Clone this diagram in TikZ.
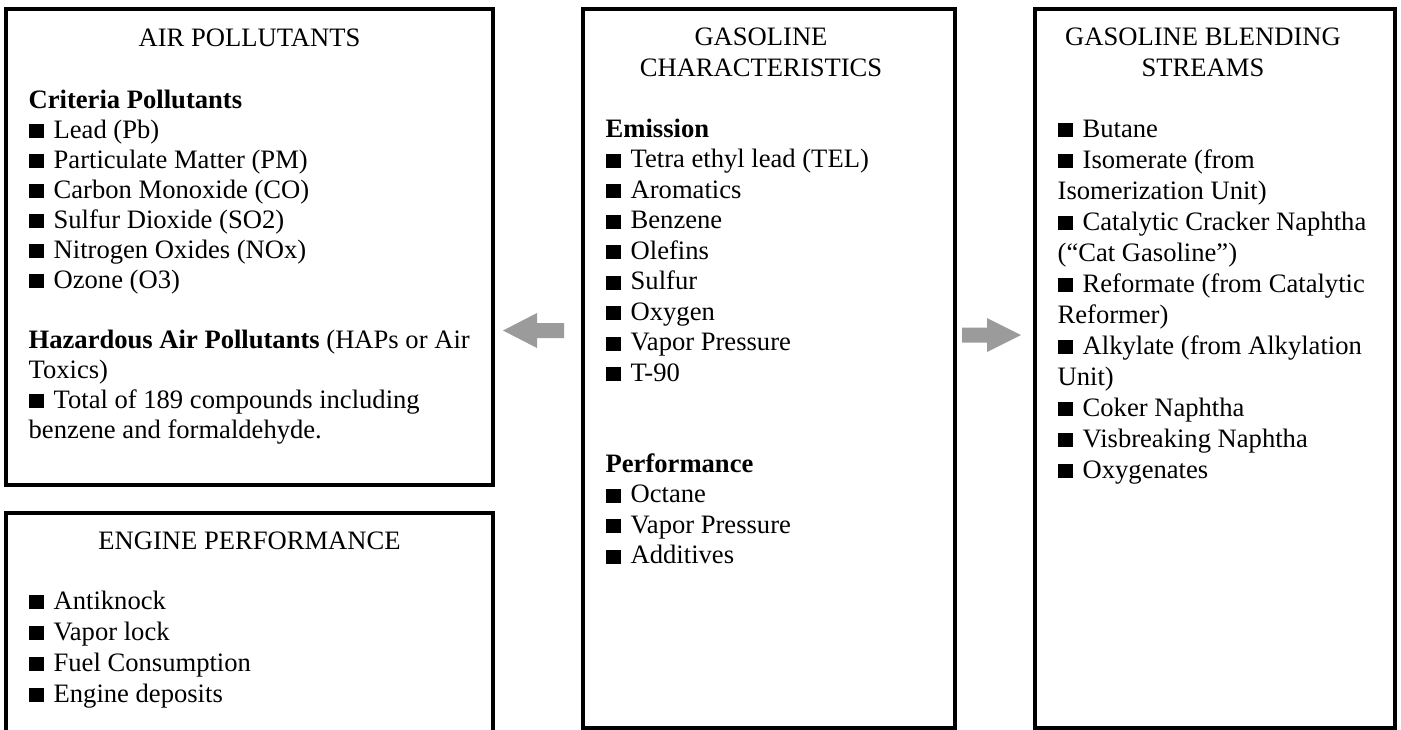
\documentclass[tikz,border=0pt]{standalone}
\usepackage{fontspec}
\setmainfont{Liberation Serif}
\usetikzlibrary{positioning, calc}
\definecolor{arrowgray}{HTML}{9B9B9B}
\newcommand{\sqb}{\rule{7.5pt}{7pt}\hspace{5pt}}

\begin{document}
\begin{tikzpicture}[
    x=0.5pt, y=-0.5pt,
    every node/.style={font=\fontsize{13.3}{15}\selectfont, inner sep=0pt},
    panel/.style={draw, rectangle, line width=1.75pt, inner sep=0pt},
    head/.style={anchor=base},
    item/.style={anchor=base west},
    blockarr/.style={fill=arrowgray}
]
\useasboundingbox (0,0) rectangle (1401,729);
\clip (0,0) rectangle (1401,729);
% Boxes
\node[panel, minimum width=243.5pt, minimum height=238pt] (airbox) at (249.5,247) {};
\node[panel, minimum width=243.5pt, minimum height=115pt] (enginebox) at (249.5,628) {};
\node[panel, minimum width=186pt, minimum height=359.5pt] (charbox) at (769,368.5) {};
\node[panel, minimum width=180pt, minimum height=359.5pt] (blendbox) at (1215,368.5) {};
% Titles
\node[head] (airtitle) at ($(airbox.north)+(0,39)$) {AIR POLLUTANTS};
\node[head] (enginetitle) at ($(enginebox.north)+(0,38)$) {ENGINE PERFORMANCE};
\node[head] (chartitle) at ($(charbox.north)+(-8,38)$) {GASOLINE};
\node[head] (chartitleb) at ($(charbox.north)+(-8,69)$) {CHARACTERISTICS};
\node[head] (blendtitle) at ($(blendbox.north)+(-12,38)$) {GASOLINE BLENDING};
\node[head] (blendtitleb) at ($(blendbox.north)+(-12,69)$) {STREAMS};
% Air pollutants
\node[item] (crit) at ($(airbox.north west)+(24,101)$) {\textbf{Criteria Pollutants}};
\foreach \txt [count=\i] in {Lead (Pb), Particulate Matter (PM), Carbon Monoxide (CO),
    Sulfur Dioxide (SO2), Nitrogen Oxides (NOx), Ozone (O3)} {
    \node[item] (crit\i) at ($(airbox.north west)+(24,101+30*\i)$) {\sqb\txt};
}
\node[item] (haps) at ($(airbox.north west)+(24,341)$) {\textbf{Hazardous Air Pollutants} (HAPs or Air};
\node[item] (hapsb) at ($(airbox.north west)+(24,371)$) {Toxics)};
\node[item] (hapsc) at ($(airbox.north west)+(24,401)$) {\sqb Total of 189 compounds including};
\node[item] (hapsd) at ($(airbox.north west)+(24,431)$) {benzene and formaldehyde.};
% Engine performance
\foreach \txt [count=\i from 0] in {Antiknock, Vapor lock, Fuel Consumption, Engine deposits} {
    \node[item] (eng\i) at ($(enginebox.north west)+(24,98+31*\i)$) {\sqb\txt};
}
% Gasoline characteristics
\node[item] (emis) at ($(charbox.north west)+(24,130)$) {\textbf{Emission}};
\foreach \txt [count=\i] in {Tetra ethyl lead (TEL), Aromatics, Benzene, Olefins, Sulfur,
    Oxygen, Vapor Pressure, T-90} {
    \node[item] (emis\i) at ($(charbox.north west)+(24,130+30.5*\i)$) {\sqb\txt};
}
\node[item] (perf) at ($(charbox.north west)+(24,465)$) {\textbf{Performance}};
\foreach \txt [count=\i] in {Octane, Vapor Pressure, Additives} {
    \node[item] (perf\i) at ($(charbox.north west)+(24,465+30.5*\i)$) {\sqb\txt};
}
% Blending streams
\foreach \bul/\txt [count=\i from 0] in {1/Butane, 1/Isomerate (from, 0/Isomerization Unit),
    1/Catalytic Cracker Naphtha, 0/(“Cat Gasoline”), 1/Reformate (from Catalytic,
    0/Reformer), 1/Alkylate (from Alkylation, 0/Unit), 1/Coker Naphtha,
    1/Visbreaking Naphtha, 1/Oxygenates} {
    \node[item] (blend\i) at ($(blendbox.north west)+(24,130+31*\i)$) {\ifnum\bul=1 \sqb\fi\txt};
}
% Block arrows
\coordinate (lefttip) at (503,330.5);
\fill[blockarr] (lefttip) -- ++(34,-17.5) -- ++(0,10) -- ++(27,0) -- ++(0,15)
    -- ++(-27,0) -- ++(0,10) -- cycle;
\coordinate (righttip) at (1021,335);
\fill[blockarr] (righttip) -- ++(-34,-17) -- ++(0,9.5) -- ++(-25,0) -- ++(0,15)
    -- ++(25,0) -- ++(0,9.5) -- cycle;
\end{tikzpicture}
\end{document}
